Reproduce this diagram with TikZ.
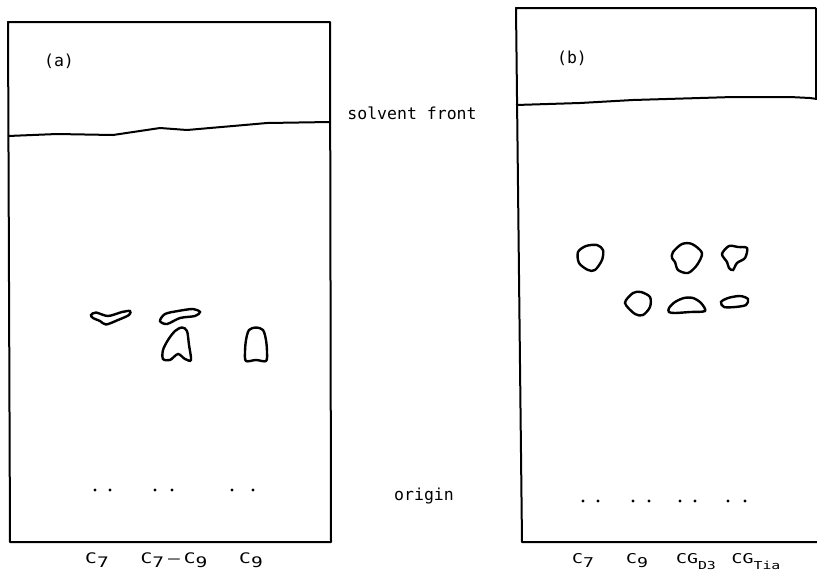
\documentclass[tikz,border=0pt]{standalone}
\usepackage{fontspec}
\newfontfamily\letterfont{DejaVu Sans Mono}
\newfontfamily\lanefont[FakeStretch=1.35]{DejaVu Sans Mono}
\newcommand{\lsub}[1]{\raisebox{-4pt}{#1}}
\newcommand{\ssub}[1]{\raisebox{-6pt}{\fontsize{11}{11}\selectfont #1}}

\begin{document}
\begin{tikzpicture}[
  x=1pt, y=-1pt,
  every node/.style={inner sep=0pt},
  plate/.style={line width=2pt, line join=round},
  spot/.style={line width=2.4pt},
  lettering/.style={font=\letterfont\fontsize{16.5}{16.5}\selectfont},
  lane a/.style={font=\lanefont\fontsize{14.5}{14.5}\selectfont, anchor=base},
  lane b/.style={font=\lanefont\fontsize{13.5}{13.5}\selectfont, anchor=base},
]
\useasboundingbox (0,0) rectangle (817,574);

%% Plate (a)
\draw[plate] (8,22) -- (330,22) -- (331,542) -- (10,542) -- cycle;
\draw[plate] (8,136) -- (57,134) -- (113,135) -- (160,128) -- (187,130)
  -- (233,126) -- (267,123) -- (330,122);
\node[lettering] (tagA) at (59,61) {(a)};

% spots
\draw[spot] plot[smooth cycle] coordinates {(91,315) (96,312.5) (108,316)
  (122,312) (130,311) (129,315) (118,320) (106,324.5) (100,321) (93,318)};
\draw[spot] plot[smooth cycle] coordinates {(160,321) (165,314) (178,311)
  (193,309) (200,312) (195,316) (180,318) (167,324)};
\draw[spot] plot[smooth cycle] coordinates {(175,331) (182,327.5) (187,331)
  (189,345) (191,360) (185,359) (178,354) (170,360) (163,359) (163,350)
  (168,340)};
\draw[spot] plot[smooth cycle] coordinates {(246,340) (249,330) (256,327.5)
  (263,330) (266,340) (267,352) (266,361) (256,360) (246,361) (245,352)};

% origin
\foreach \x in {95,110,155,172,232,253}
  \fill (\x,490) circle (1.7);

\node[lane a] (a7) at (97,563) {C\lsub{7}};
\node[lane a] (a79) at (174,563) {C\lsub{7}\;—\;C\lsub{9}};
\node[lane a] (a9) at (251,563) {C\lsub{9}};

%% Labels between the plates
\node[lettering] (front) at (412,113) {solvent front};
\node[lettering] (origin) at (424,496) {origin};

%% Plate (b)
\draw[plate] (816,8) -- (516,8) -- (522,542) -- (817,542);
\draw[plate] (816,8) -- (816,99);
\draw[plate] (516,105) -- (580,103) -- (633,100) -- (700,98) -- (733,97)
  -- (790,97) -- (810,98) -- (817,99);
\node[lettering] (tagB) at (572,58) {(b)};

% spots
\draw[spot] plot[smooth cycle] coordinates {(578,252) (586,246) (597,245)
  (603,250) (602,260) (595,270) (588,270) (579,263)};
\draw[spot] plot[smooth cycle] coordinates {(673,252) (682,244) (692,244)
  (702,253) (697,265) (688,273) (678,270) (675,262) (672,258)};
\draw[spot] plot[smooth cycle] coordinates {(722,254) (729,246) (738,247)
  (747,248) (745,258) (737,263) (733,270) (729,268) (727,262)};
\draw[spot] plot[smooth cycle] coordinates {(625,303) (633,293) (641,292)
  (650,297) (650,307) (643,315) (635,314)};
\draw[spot] plot[smooth cycle] coordinates {(669,308) (675,302) (684,298)
  (693,298) (701,303) (705,311) (690,312) (675,313) (669,312)};
\draw[spot] plot[smooth cycle] coordinates {(721,302) (728,298) (740,296)
  (748,299) (746,305) (735,307) (724,307)};

% origin
\foreach \x in {583,598,633,649,680,695,728,745}
  \fill (\x,501) circle (1.7);

\node[lane b] (b7) at (583,563) {C\lsub{7}};
\node[lane b] (b9) at (637,563) {C\lsub{9}};
\node[lane b] (bd3) at (696,563) {CG\ssub{D3}};
\node[lane b] (btia) at (756,563) {CG\ssub{Tia}};

\end{tikzpicture}
\end{document}
